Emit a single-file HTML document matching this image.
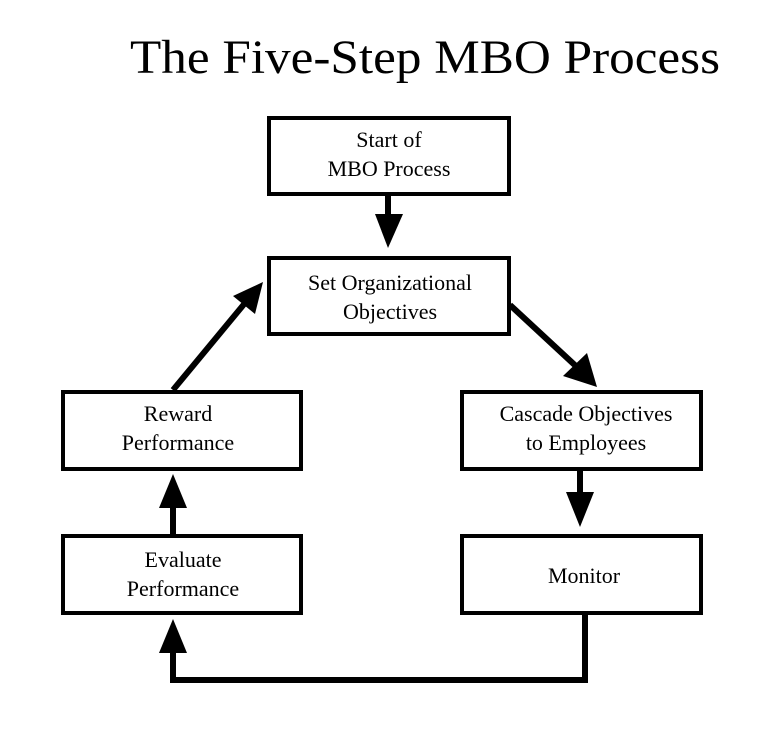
<!DOCTYPE html>
<html><head><meta charset="utf-8"><style>
html,body{margin:0;padding:0;background:#fff;}
svg{display:block;}
text{font-family:"Liberation Serif",serif;fill:#000;}
</style></head><body>
<svg width="769" height="729" viewBox="0 0 769 729" xmlns="http://www.w3.org/2000/svg">
<rect width="769" height="729" fill="#fff"/>
<text x="130" y="73" font-size="48" textLength="590" lengthAdjust="spacingAndGlyphs">The Five-Step MBO Process</text>
<g fill="#fff" stroke="#000" stroke-width="4">
<rect x="269" y="118" width="240" height="76"/>
<rect x="269" y="258" width="240" height="76"/>
<rect x="63" y="392" width="238" height="77"/>
<rect x="462" y="392" width="239" height="77"/>
<rect x="63" y="536" width="238" height="77"/>
<rect x="462" y="536" width="239" height="77"/>
</g>
<g font-size="22" text-anchor="middle">
<text x="389" y="147">Start of</text>
<text x="389" y="176">MBO Process</text>
<text x="390" y="290">Set Organizational</text>
<text x="390" y="319">Objectives</text>
<text x="178" y="421">Reward</text>
<text x="178" y="450">Performance</text>
<text x="586" y="421">Cascade Objectives</text>
<text x="586" y="450">to Employees</text>
<text x="183" y="567">Evaluate</text>
<text x="183" y="596">Performance</text>
<text x="584" y="583">Monitor</text>
</g>
<g stroke="#000" stroke-width="6" fill="none">
<line x1="388" y1="194" x2="388" y2="225"/>
<line x1="580" y1="469" x2="580" y2="500"/>
<line x1="173" y1="535" x2="173" y2="500"/>
<polyline points="585,613 585,680 173,680 173,645"/>
<line x1="173" y1="390" x2="245" y2="303"/>
<line x1="510" y1="305" x2="578" y2="368"/>
</g>
<g fill="#000">
<polygon points="375,214 403,214 388,248"/>
<polygon points="566,492 594,492 580,527"/>
<polygon points="159,508 187,508 173,474"/>
<polygon points="159,653 187,653 173,619"/>
<polygon points="263,282 233,296 255,314"/>
<polygon points="597,387 563,376 587,353"/>
</g>
</svg>
</body></html>
